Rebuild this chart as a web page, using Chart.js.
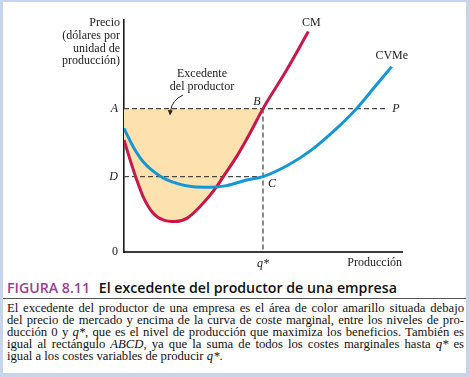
<!DOCTYPE html>
<html>
<head>
<meta charset="utf-8">
<script src="https://cdn.jsdelivr.net/npm/chart.js@4.4.1/dist/chart.umd.min.js"></script>
<style>
  html, body { margin: 0; padding: 0; background: #ffffff; }
  #page { position: relative; width: 469px; height: 377px; background: #c8d3ec; overflow: hidden; }
  #sheet { position: absolute; left: 3px; top: 2px; width: 463px; height: 371px; background: #ffffff; }
  #chartBox { position: absolute; left: 0; top: 0; width: 469px; height: 270px; }
  #caption { position: absolute; left: 7px; top: 279px; font-family: "Open Sans", sans-serif; font-weight: 600; font-size: 14.2px; line-height: 18px; color: #111111; white-space: nowrap; }
  #caption .num { color: #9c3f8e; margin-right: 5px; }
  #rule { position: absolute; left: 3px; top: 298px; width: 463px; height: 1px; background: #555555; }
  #legendText { position: absolute; left: 7px; top: 302px; width: 457px; font-family: "Liberation Serif", serif; font-size: 12.7px; line-height: 12px; color: #111111; }
  #legendText div { text-align: justify; text-align-last: justify; white-space: nowrap; }
  #legendText div.last { text-align-last: left; }
</style>
</head>
<body>
<div id="page">
  <div id="sheet"></div>
  <div id="chartBox"><canvas id="chart" width="469" height="270"></canvas></div>
  <div id="caption"><span class="num">FIGURA 8.11</span> El excedente del productor de una empresa</div>
  <div id="rule"></div>
  <div id="legendText">
    <div>El excedente del productor de una empresa es el área de color amarillo situada debajo</div>
    <div>del precio de mercado y encima de la curva de coste marginal, entre los niveles de pro-</div>
    <div>ducción 0 y <i>q*</i>, que es el nivel de producción que maximiza los beneficios. También es</div>
    <div>igual al rectángulo <i>ABCD</i>, ya que la suma de todos los costes marginales hasta <i>q*</i> es</div>
    <div class="last">igual a los costes variables de producir <i>q*</i>.</div>
  </div>
</div>
<script>
  // Curva de coste marginal (CM)
  const cmOutput = [0, 0.22, 0.46, 0.69, 1.05, 1.41, 1.83, 2.26, 2.73, 3.33, 3.57, 4.05, 4.53, 5.0, 5.85, 6.63];
  const cmCost = [4.83, 3.97, 3.10, 2.38, 1.67, 1.38, 1.31, 1.45, 1.95, 2.81, 3.25, 4.11, 5.12, 6.18, 7.84, 9.50];

  // Curva de coste variable medio (CVMe)
  const cvmeOutput = [0, 0.33, 0.69, 1.29, 1.90, 2.49, 3.09, 3.69, 4.41, 5.0, 5.91, 6.75, 7.59, 8.37, 9.03, 9.63];
  const cvmeCost = [5.33, 4.54, 3.89, 3.28, 2.96, 2.81, 2.79, 2.86, 3.10, 3.25, 3.75, 4.40, 5.26, 6.19, 7.13, 7.99];

  // Precio de mercado (A), coste en q* (D) y producción óptima
  const priceA = 6.18;
  const costD = 3.25;
  const qStar = 5;
  const priceLineEnd = 9.42;

  // Etiquetas de los ejes
  const yTickValues = [0, costD, priceA];
  const yTickLabels = ['0', 'D', 'A'];
  const xTickValues = [qStar];
  const xTickLabels = ['q*'];

  const serif = '"Liberation Serif", serif';
  const red = '#c8174a';
  const blue = '#1597d5';
  const peach = '#fde2b0';
  const dashGrey = '#4a4a4a';

  function toPoints(xs, ys) {
    return xs.map(function (x, i) { return { x: x, y: ys[i] }; });
  }

  const annotations = {
    id: 'annotations',
    afterDraw(chart) {
      const ctx = chart.ctx;
      const xs = chart.scales.x;
      const ys = chart.scales.y;
      const area = chart.chartArea;
      ctx.save();
      ctx.fillStyle = '#1a1a1a';
      ctx.textBaseline = 'middle';

      // Título del eje vertical
      ctx.font = '12px ' + serif;
      ctx.textAlign = 'right';
      ['Precio', '(dólares por', 'unidad de', 'producción)'].forEach(function (line, i) {
        ctx.fillText(line, area.left - 4, 23 + i * 12.7);
      });

      // Nombres de las curvas
      ctx.textAlign = 'center';
      const cmEnd = cmOutput.length - 1;
      ctx.fillText('CM', xs.getPixelForValue(cmOutput[cmEnd]) + 3, ys.getPixelForValue(cmCost[cmEnd]) - 9);
      const cvEnd = cvmeOutput.length - 1;
      ctx.fillText('CVMe', xs.getPixelForValue(cvmeOutput[cvEnd]), ys.getPixelForValue(cvmeCost[cvEnd]) - 11);

      // Puntos B, C y P
      ctx.font = 'italic 12px ' + serif;
      const qx = xs.getPixelForValue(qStar);
      const ay = ys.getPixelForValue(priceA);
      const dy = ys.getPixelForValue(costD);
      ctx.fillText('B', qx - 6, ay - 7);
      ctx.fillText('C', qx + 9, dy + 7);
      ctx.fillText('P', xs.getPixelForValue(priceLineEnd) + 10, ay);

      // Excedente del productor
      ctx.font = '12px ' + serif;
      ctx.fillText('Excedente', area.left + 78, 74);
      ctx.fillText('del productor', area.left + 78, 87);

      // Flecha
      ctx.strokeStyle = '#222222';
      ctx.lineWidth = 1;
      ctx.beginPath();
      ctx.moveTo(183, 95);
      ctx.quadraticCurveTo(172, 100, 170.5, 111);
      ctx.stroke();
      ctx.beginPath();
      ctx.moveTo(170, 115.5);
      ctx.lineTo(167.8, 110);
      ctx.lineTo(172.8, 110.6);
      ctx.closePath();
      ctx.fillStyle = '#222222';
      ctx.fill();
      ctx.restore();
    }
  };

  function dashed(points) {
    return {
      data: points,
      borderColor: dashGrey,
      borderWidth: 1.3,
      borderDash: [5, 3],
      pointRadius: 0,
      fill: false,
      tension: 0
    };
  }

  new Chart(document.getElementById('chart'), {
    type: 'line',
    data: {
      datasets: [
        {
          label: 'CVMe',
          data: toPoints(cvmeOutput, cvmeCost),
          borderColor: blue,
          borderWidth: 3,
          pointRadius: 0,
          cubicInterpolationMode: 'monotone',
          fill: false
        },
        {
          label: 'CM',
          data: toPoints(cmOutput, cmCost),
          borderColor: red,
          borderWidth: 3,
          pointRadius: 0,
          cubicInterpolationMode: 'monotone',
          fill: { target: { value: priceA }, above: 'rgba(0,0,0,0)', below: peach }
        },
        dashed([{ x: 0, y: priceA }, { x: priceLineEnd, y: priceA }]),
        dashed([{ x: 0, y: costD }, { x: qStar, y: costD }]),
        dashed([{ x: qStar, y: priceA }, { x: qStar, y: 0 }])
      ]
    },
    options: {
      responsive: false,
      animation: false,
      layout: { padding: { top: 20, right: 67, bottom: 0, left: 0 } },
      plugins: {
        legend: { display: false },
        tooltip: { enabled: false },
        filler: { drawTime: 'beforeDatasetsDraw' }
      },
      scales: {
        x: {
          type: 'linear',
          min: 0,
          max: 10,
          grid: { display: false, drawTicks: false },
          border: { display: true, color: '#3a3a3a', width: 2 },
          afterBuildTicks(scale) {
            scale.ticks = xTickValues.map(function (v) { return { value: v }; });
          },
          afterFit(scale) { scale.height = 18; },
          ticks: {
            autoSkip: false,
            padding: 5,
            color: '#1a1a1a',
            font: { family: serif, size: 12, style: 'italic' },
            callback(value) { return xTickLabels[xTickValues.indexOf(value)]; }
          },
          title: {
            display: true,
            text: 'Producción',
            align: 'end',
            color: '#1a1a1a',
            padding: 0,
            font: { family: serif, size: 12 }
          }
        },
        y: {
          type: 'linear',
          min: 0,
          max: 10,
          grid: { display: false, drawTicks: false },
          border: { display: true, color: '#1a1a1a', width: 1.6 },
          afterBuildTicks(scale) {
            scale.ticks = yTickValues.map(function (v) { return { value: v }; });
          },
          afterFit(scale) { scale.width = 124; },
          ticks: {
            autoSkip: false,
            padding: 6,
            color: '#1a1a1a',
            font(ctx) {
              const italic = ctx.tick && ctx.tick.value !== 0;
              return { family: serif, size: 12, style: italic ? 'italic' : 'normal' };
            },
            callback(value) { return yTickLabels[yTickValues.indexOf(value)]; }
          }
        }
      }
    },
    plugins: [annotations]
  });
</script>
</body>
</html>
